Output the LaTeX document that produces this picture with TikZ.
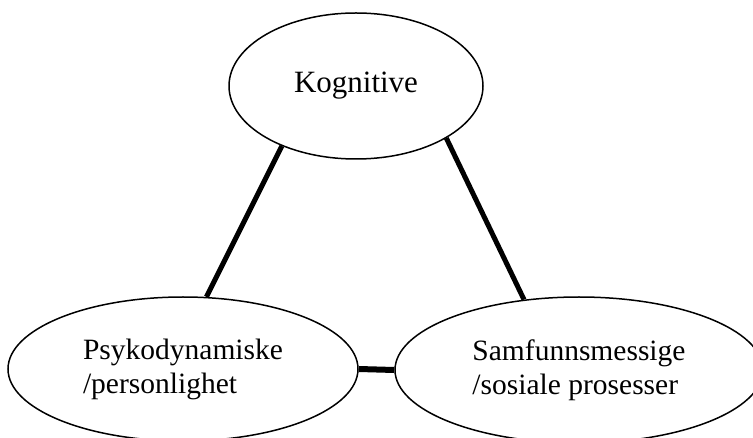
\documentclass[tikz,border=0pt]{standalone}
\usepackage{fontspec}
\setmainfont{Liberation Serif}
\usetikzlibrary{shapes.geometric}

\tikzset{
  bubble/.style={ellipse, draw=black, line width=1.5pt, inner sep=0pt,
                 align=left, text=black},
  link/.style={draw=black, line width=5pt},
}

\begin{document}
\begin{tikzpicture}[x=1pt, y=-1pt]
  \useasboundingbox (0,0) rectangle (753,438);

  % the three areas
  \node[bubble, minimum width=254pt, minimum height=146pt,
        font=\fontsize{31}{36}\selectfont] (kog) at (356,86) {Kognitive};
  \node[bubble, minimum width=350pt, minimum height=144pt,
        font=\fontsize{29.5}{34}\selectfont] (psy) at (183,369)
        {Psykodynamiske\\/personlighet};
  \node[bubble, minimum width=368pt, minimum height=146pt,
        font=\fontsize{29.5}{34}\selectfont] (sam) at (579,370)
        {Samfunnsmessige\\/sosiale prosesser};

  % links between them
  \draw[link] (psy.72) -- (kog.219);
  \draw[link] (sam.128) -- (kog.330);
  \draw[link, line width=6pt] (psy.east) -- (sam.west);
\end{tikzpicture}
\end{document}
